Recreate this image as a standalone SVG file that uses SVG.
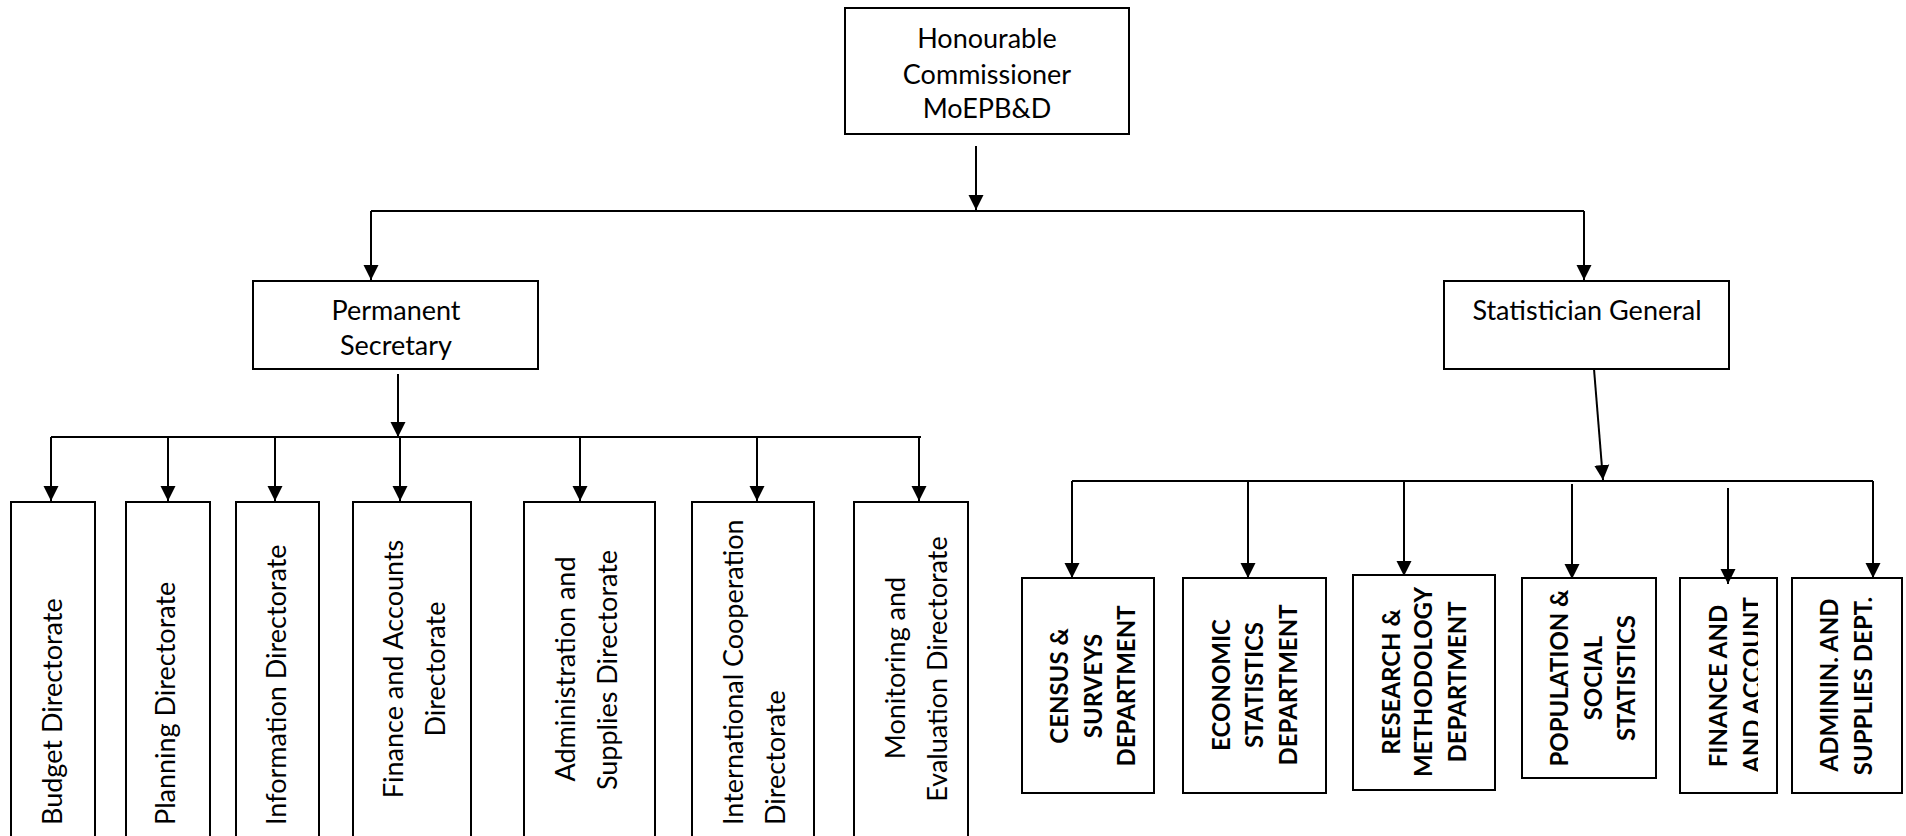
<svg xmlns="http://www.w3.org/2000/svg" width="1906" height="836" viewBox="0 0 1906 836">
<style>
.box{fill:#fff;stroke:#000;stroke-width:2}
.ln{fill:none;stroke:#000;stroke-width:2}
.t{font-family:Lato,"Open Sans","Liberation Sans",sans-serif;font-size:27px;fill:#000}
.b{font-family:Lato,"Open Sans","Liberation Sans",sans-serif;font-size:24px;font-weight:bold;fill:#000;text-anchor:middle}
.m{text-anchor:middle}
.s{text-anchor:start}
</style>
<defs>
<marker id="ah" markerUnits="userSpaceOnUse" markerWidth="16" markerHeight="16" viewBox="0 0 16 16" refX="15" refY="8" orient="auto">
<path d="M0,0.5 L15,8 L0,15.5 z" fill="#000"/>
</marker>
<clipPath id="clipFin"><rect x="1680" y="578" width="78" height="215"/></clipPath>
</defs>
<rect width="1906" height="836" fill="#fff"/>
<g id="connectors">
<line class="ln" x1="976" y1="146" x2="976" y2="210" marker-end="url(#ah)"/>
<line class="ln" x1="371" y1="211" x2="1584" y2="211"/>
<line class="ln" x1="371" y1="211" x2="371" y2="280" marker-end="url(#ah)"/>
<line class="ln" x1="1584" y1="211" x2="1584" y2="280" marker-end="url(#ah)"/>
<line class="ln" x1="398" y1="374" x2="398" y2="437" marker-end="url(#ah)"/>
<line class="ln" x1="51" y1="437" x2="921" y2="437"/>
<line class="ln" x1="51" y1="437" x2="51" y2="501" marker-end="url(#ah)"/>
<line class="ln" x1="168" y1="437" x2="168" y2="501" marker-end="url(#ah)"/>
<line class="ln" x1="275" y1="437" x2="275" y2="501" marker-end="url(#ah)"/>
<line class="ln" x1="400" y1="437" x2="400" y2="501" marker-end="url(#ah)"/>
<line class="ln" x1="580" y1="437" x2="580" y2="501" marker-end="url(#ah)"/>
<line class="ln" x1="757" y1="437" x2="757" y2="501" marker-end="url(#ah)"/>
<line class="ln" x1="919" y1="437" x2="919" y2="501" marker-end="url(#ah)"/>
<line class="ln" x1="1594" y1="369" x2="1603" y2="480" marker-end="url(#ah)"/>
<line class="ln" x1="1072" y1="481" x2="1873" y2="481"/>
<line class="ln" x1="1072" y1="481" x2="1072" y2="578" marker-end="url(#ah)"/>
<line class="ln" x1="1248" y1="481" x2="1248" y2="578" marker-end="url(#ah)"/>
<line class="ln" x1="1404" y1="481" x2="1404" y2="576" marker-end="url(#ah)"/>
<line class="ln" x1="1572" y1="484" x2="1572" y2="579" marker-end="url(#ah)"/>
<line class="ln" x1="1873" y1="481" x2="1873" y2="578" marker-end="url(#ah)"/>
</g>
<g id="commissioner">
<rect class="box" x="845" y="8" width="284" height="126"/>
<text class="t m" x="987" y="48">Honourable</text>
<text class="t m" x="987" y="84">Commissioner</text>
<text class="t m" x="987" y="118">MoEPB&amp;D</text>
</g>
<g id="permanent-secretary">
<rect class="box" x="253" y="281" width="285" height="88"/>
<text class="t m" x="396" y="320">Permanent</text>
<text class="t m" x="396" y="355">Secretary</text>
</g>
<g id="statistician-general">
<rect class="box" x="1444" y="281" width="285" height="88"/>
<text class="t m" x="1587" y="320">Statistician General</text>
</g>
<g id="budget">
<rect class="box" x="11" y="502" width="84" height="350"/>
<text class="t s" transform="translate(62,825) rotate(-90)">Budget Directorate</text>
</g>
<g id="planning">
<rect class="box" x="126" y="502" width="84" height="350"/>
<text class="t s" transform="translate(175,825) rotate(-90)">Planning Directorate</text>
</g>
<g id="information">
<rect class="box" x="236" y="502" width="83" height="350"/>
<text class="t s" transform="translate(286,825) rotate(-90)">Information Directorate</text>
</g>
<g id="finance-accounts">
<rect class="box" x="353" y="502" width="118" height="350"/>
<text class="t m" transform="translate(403,669) rotate(-90)">Finance and Accounts</text>
<text class="t m" transform="translate(445,669) rotate(-90)">Directorate</text>
</g>
<g id="administration-supplies">
<rect class="box" x="524" y="502" width="131" height="350"/>
<text class="t m" transform="translate(575,669) rotate(-90)">Administration and</text>
<text class="t m" transform="translate(617,670) rotate(-90)">Supplies Directorate</text>
</g>
<g id="international-cooperation">
<rect class="box" x="692" y="502" width="122" height="350"/>
<text class="t s" transform="translate(743,825) rotate(-90)">International Cooperation</text>
<text class="t s" transform="translate(785,825) rotate(-90)">Directorate</text>
</g>
<g id="monitoring-evaluation">
<rect class="box" x="854" y="502" width="114" height="350"/>
<text class="t m" transform="translate(905,668) rotate(-90)">Monitoring and</text>
<text class="t m" transform="translate(947,669) rotate(-90)">Evaluation Directorate</text>
</g>
<g id="census-surveys">
<rect class="box" x="1022" y="578" width="132" height="215"/>
<text class="b" transform="translate(1068,686) rotate(-90)">CENSUS &amp;</text>
<text class="b" transform="translate(1102,686) rotate(-90)">SURVEYS</text>
<text class="b" transform="translate(1135,686) rotate(-90)">DEPARTMENT</text>
</g>
<g id="economic-statistics">
<rect class="box" x="1183" y="578" width="143" height="215"/>
<text class="b" transform="translate(1230,685) rotate(-90)">ECONOMIC</text>
<text class="b" transform="translate(1263,685) rotate(-90)">STATISTICS</text>
<text class="b" transform="translate(1297,685) rotate(-90)">DEPARTMENT</text>
</g>
<g id="research-methodology">
<rect class="box" x="1353" y="575" width="142" height="215"/>
<text class="b" transform="translate(1400,682) rotate(-90)">RESEARCH &amp;</text>
<text class="b" transform="translate(1432,682) rotate(-90)">METHODOLOGY</text>
<text class="b" transform="translate(1466,682) rotate(-90)">DEPARTMENT</text>
</g>
<g id="population-social">
<rect class="box" x="1522" y="578" width="134" height="200"/>
<text class="b" transform="translate(1568,678) rotate(-90)">POPULATION &amp;</text>
<text class="b" transform="translate(1602,678) rotate(-90)">SOCIAL</text>
<text class="b" transform="translate(1635,678) rotate(-90)">STATISTICS</text>
</g>
<g id="finance-account-dept">
<rect class="box" x="1680" y="578" width="97" height="215"/>
<g clip-path="url(#clipFin)">
<text class="b" transform="translate(1727,686) rotate(-90)">FINANCE AND</text>
<text class="b" transform="translate(1761,685) rotate(-90)">AND ACCOUNT</text>
</g>
</g>
<g id="admin-supplies-dept">
<rect class="box" x="1792" y="578" width="110" height="215"/>
<text class="b" transform="translate(1838,685) rotate(-90)">ADMININ. AND</text>
<text class="b" transform="translate(1872,686) rotate(-90)">SUPPLIES DEPT.</text>
</g>
<g id="finance-arrow">
<line class="ln" x1="1728" y1="488" x2="1728" y2="584" marker-end="url(#ah)"/>
</g>
</svg>
